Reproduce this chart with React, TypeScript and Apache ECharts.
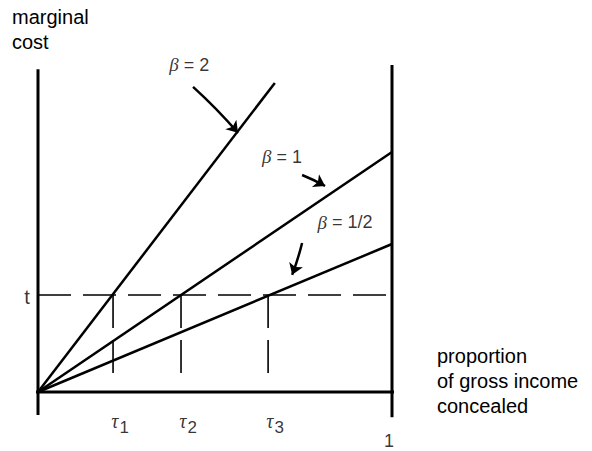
import React, { useEffect, useRef } from "react";
import * as echarts from "echarts";

// ---- data (x: proportion concealed, 0..1; y: marginal cost) ----
const tValue = 0.274;
const betaNames = ["2", "1", "1/2"];
const betaLineEnds: number[][] = [
  [0.669, 0.873],
  [1, 0.678],
  [1, 0.418],
];
const tauValues = [0.212, 0.404, 0.65];
const tauSubs = ["1", "2", "3"];
const dashBottom = 0.045;
// axes extents
const leftAxis: number[][] = [[0, -0.065], [0, 0.912]];
const bottomAxis: number[][] = [[-0.056, 0], [1.07, 0]];
const rightAxis: number[][] = [[1, -0.071], [1, 0.924]];
// arrow start/end points pointing at each β line
const arrowCoords: number[][][] = [
  [[0.438, 0.862], [0.565, 0.732]],
  [[0.746, 0.613], [0.811, 0.582]],
  [[0.746, 0.421], [0.718, 0.331]],
];
const betaLabelPos: number[][] = [
  [0.427, 0.924],
  [0.689, 0.664],
  [0.867, 0.48],
];
const yTitle = ["marginal", "cost"];
const xTitle = ["proportion", "of gross income", "concealed"];

const SANS = '"Liberation Sans", Arial, sans-serif';
const NARROW = '"Liberation Sans Narrow", "Liberation Sans", Arial, sans-serif';
const SERIF = '"Liberation Serif", "Times New Roman", serif';

export default function App() {
  const ref = useRef<HTMLDivElement>(null);
  useEffect(() => {
    document.body.style.margin = "0";
    const chart = echarts.init(ref.current!, null, { renderer: "svg" });
    const solid = (w: number) => ({ color: "#000", width: w, type: "solid" as const });
    const lineSeries = (data: number[][], width: number, dashed = false) => ({
      type: "line",
      data,
      symbol: "none",
      clip: false,
      silent: true,
      lineStyle: dashed
        ? { color: "#000", width, type: [33, 12] }
        : solid(width),
    });

    const series: any[] = [
      lineSeries(leftAxis, 3),
      lineSeries(bottomAxis, 3),
      lineSeries(rightAxis, 3),
      ...betaLineEnds.map((e) => lineSeries([[0, 0], e], 2.5)),
      lineSeries([[0, tValue], [1, tValue]], 1.6, true),
      ...tauValues.map((tv) => lineSeries([[tv, tValue], [tv, dashBottom]], 1.6, true)),
      {
        type: "lines",
        coordinateSystem: "cartesian2d",
        silent: true,
        symbol: ["none", "arrow"],
        symbolSize: [9, 11],
        lineStyle: { color: "#000", width: 2.5, curveness: 0.03, opacity: 1 },
        data: arrowCoords.map((c) => ({ coords: c })),
      },
      {
        type: "scatter",
        symbolSize: 0,
        silent: true,
        data: betaLabelPos.map((p, i) => ({
          value: p,
          label: {
            show: true,
            position: "inside",
            formatter: `{b|β}{n| = ${betaNames[i]}}`,
            rich: {
              b: { fontFamily: SERIF, fontStyle: "italic", fontSize: 19, color: "#000" },
              n: { fontFamily: NARROW, fontSize: 18, color: "#000" },
            },
          },
        })),
      },
      {
        type: "scatter",
        symbolSize: 0,
        silent: true,
        data: tauValues.map((tv, i) => ({
          value: [tv, 0],
          label: {
            show: true,
            position: "inside",
            offset: [7, 29],
            formatter: `{t|τ}{s|${tauSubs[i]}}`,
            rich: {
              t: { fontFamily: SERIF, fontStyle: "italic", fontSize: 20, color: "#000" },
              s: { fontFamily: NARROW, fontSize: 17, color: "#000", padding: [12, 0, 0, 1] },
            },
          },
        })),
      },
      {
        type: "scatter",
        symbolSize: 0,
        silent: true,
        data: [
          {
            value: [0, tValue],
            label: { show: true, position: "inside", offset: [-11, 2], formatter: "t", fontFamily: SANS, fontSize: 20, color: "#000" },
          },
          {
            value: [1, 0],
            label: { show: true, position: "inside", offset: [-3, 49], formatter: "1", fontFamily: SANS, fontSize: 18, color: "#000" },
          },
        ],
      },
    ];

    chart.setOption({
      animation: false,
      backgroundColor: "#fff",
      grid: { left: 38, top: 38, width: 354, height: 354 },
      xAxis: { type: "value", min: 0, max: 1, show: false },
      yAxis: { type: "value", min: 0, max: 1, show: false },
      graphic: [
        {
          type: "text",
          left: 12,
          top: 4,
          style: { text: yTitle.join("\n"), fontFamily: SANS, fontSize: 20, lineHeight: 25, fill: "#000" },
        },
        {
          type: "text",
          left: 437,
          top: 343,
          style: { text: xTitle.join("\n"), fontFamily: SANS, fontSize: 20, lineHeight: 25, fill: "#000" },
        },
      ],
      series,
    });
    return () => chart.dispose();
  }, []);
  return <div ref={ref} style={{ width: 592, height: 451 }} />;
}
